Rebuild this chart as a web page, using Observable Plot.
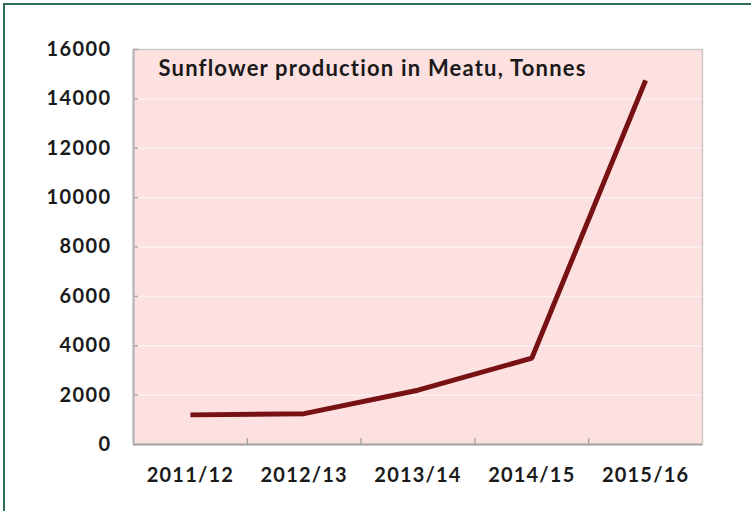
<!DOCTYPE html>
<html>
<head>
<meta charset="utf-8">
<script src="https://cdn.jsdelivr.net/npm/d3@7"></script>
<script src="https://cdn.jsdelivr.net/npm/@observablehq/plot@0.6"></script>
<style>
  html, body { margin: 0; padding: 0; background: #fff; }
  #wrap { position: relative; width: 751px; height: 511px; overflow: hidden; }
  #border { position: absolute; left: 3px; top: 3px; width: 800px; height: 600px;
            border-left: 2px solid #2f6b5a; border-top: 2px solid #2f6b5a; pointer-events: none; }
  g[aria-label="y-axis tick label"] text { letter-spacing: 1.4px; }
  g[aria-label="x-axis tick label"] text { letter-spacing: 1.2px; }
  g[aria-label="text"] text { letter-spacing: 1.2px; }
</style>
</head>
<body>
<div id="wrap"><div id="border"></div></div>
<script>
const categories = ["2011/12", "2012/13", "2013/14", "2014/15", "2015/16"];
const production = [1200, 1250, 2200, 3500, 14750];
const yTicks = [0, 2000, 4000, 6000, 8000, 10000, 12000, 14000, 16000];
const title = "Sunflower production in Meatu, Tonnes";

const data = categories.map((c, i) => ({i, season: c, value: production[i]}));
const idx = categories.map((c, i) => i);
const boundaries = idx.slice(1).map(i => i - 0.5);

const chart = Plot.plot({
  width: 751,
  height: 511,
  marginLeft: 133,
  marginRight: 49,
  marginTop: 49,
  marginBottom: 67,
  style: {fontFamily: "Lato, sans-serif", fontWeight: "bold", fontSize: "20px", color: "#1a1a1a", background: "transparent"},
  x: {type: "linear", domain: [-0.5, categories.length - 0.5], label: null},
  y: {domain: [0, 16000], label: null},
  marks: [
    Plot.frame({fill: "#fde0e0", stroke: "#cfc6c6", strokeWidth: 1.5}),
    Plot.ruleY(yTicks.filter(d => d > 0 && d < 16000), {stroke: "#ffffff", strokeOpacity: 0.55, strokeWidth: 1.5}),
    Plot.axisY(yTicks, {tickSize: 0, tickPadding: 22, tickFormat: d => String(d)}),
    Plot.axisY(yTicks, {tickSize: -5, tickFormat: () => "", stroke: "#a8a8a8", strokeWidth: 1.5}),
    Plot.axisX(idx, {tickSize: 0, tickPadding: 23, tickFormat: i => categories[i]}),
    Plot.axisX(boundaries, {tickSize: -6, tickFormat: () => "", stroke: "#a8a8a8", strokeWidth: 1.5}),
    Plot.ruleY([0], {stroke: "#a6a6a6", strokeWidth: 2}),
    Plot.ruleX([-0.5], {stroke: "#b3b3b3", strokeWidth: 2}),
    Plot.line(data, {x: "i", y: "value", stroke: "#781113", strokeWidth: 5, strokeLinejoin: "miter", strokeLinecap: "butt"}),
    Plot.text([title], {frameAnchor: "top-left", dx: 25, dy: 11, lineAnchor: "top", textAnchor: "start", fontSize: 22, fontWeight: "bold", fill: "#1a1a1a"})
  ]
});
document.getElementById("wrap").prepend(chart);
</script>
</body>
</html>
